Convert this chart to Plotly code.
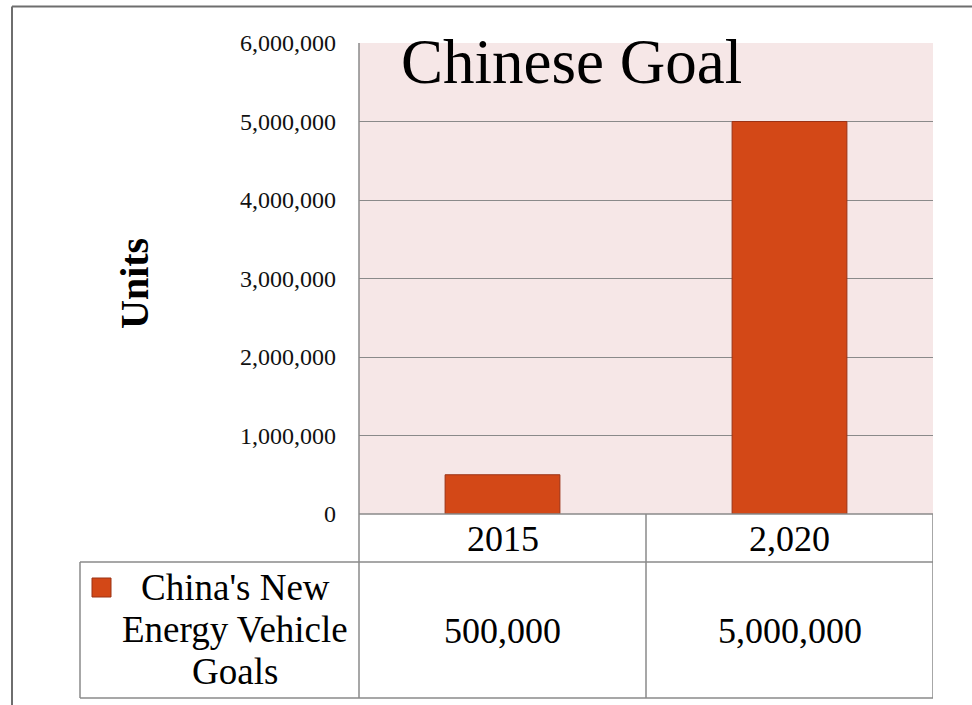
import plotly.graph_objects as go

# Chart data
categories = ["2015", "2,020"]
goal_units = [500000, 5000000]
series_lines = ["China's New", "Energy Vehicle", "Goals"]
chart_title = "Chinese Goal"
y_title = "Units"
y_ticks = [0, 1000000, 2000000, 3000000, 4000000, 5000000, 6000000]

W, H = 972, 705
SERIF = "Liberation Serif, Times New Roman, serif"
GRID = "#8a8a8a"
BAR = "#D34817"
BAR_EDGE = "#9B3215"
PINK = "#F6E7E7"

# plot area in pixels
PX0, PX1 = 359, 933
PY0, PY1 = 43, 514


def px(x):
    return x / W


def py(y):
    return 1 - y / H


fig = go.Figure(
    go.Bar(
        x=categories,
        y=goal_units,
        width=0.4,
        marker=dict(color=BAR, line=dict(color=BAR_EDGE, width=1)),
        showlegend=False,
        hoverinfo="skip",
    )
)

fig.update_layout(
    width=W,
    height=H,
    autosize=False,
    margin=dict(l=0, r=0, t=0, b=0, pad=0),
    paper_bgcolor="white",
    plot_bgcolor=PINK,
    font=dict(family=SERIF, color="#000000"),
    xaxis=dict(
        domain=[px(PX0), px(PX1)],
        type="category",
        range=[-0.5, 1.5],
        showticklabels=False,
        showgrid=False,
        zeroline=False,
        showline=False,
        ticks="",
        automargin=False,
        fixedrange=True,
    ),
    yaxis=dict(
        domain=[py(PY1), py(PY0)],
        range=[0, 6000000],
        tickvals=y_ticks,
        tickformat=",",
        showgrid=True,
        gridcolor=GRID,
        gridwidth=1.3,
        zeroline=False,
        showline=False,
        ticks="",
        ticklabelstandoff=22,
        tickfont=dict(family=SERIF, size=24, color="#111111"),
        automargin=False,
        fixedrange=True,
    ),
)

line = dict(color=GRID, width=1.5)
shapes = []


def hline(y, x0, x1, xref="paper"):
    shapes.append(dict(type="line", xref=xref, yref="paper", x0=x0, x1=x1,
                       y0=py(y), y1=py(y), line=line))


def vline(x, y0, y1, xref="paper"):
    shapes.append(dict(type="line", xref=xref, yref="paper", x0=x, x1=x,
                       y0=py(y0), y1=py(y1), line=line))


# plot area left edge continuing into the data table
vline(px(PX0), PY0, 698)
# data table grid
n = len(categories)
hline(PY1, -0.5, n - 0.5, xref="x")
hline(562, px(80), px(PX1))
hline(698, px(80), px(PX1))
vline(px(80), 562, 698)
for k in range(1, n + 1):
    vline(k - 0.5, PY1, 698, xref="x")

# outer chart border
shapes.append(dict(type="line", xref="paper", yref="paper", x0=px(12), x1=1.02,
                   y0=py(6.5), y1=py(6.5), line=dict(color="#6e6e6e", width=2)))
shapes.append(dict(type="line", xref="paper", yref="paper", x0=px(12), x1=px(12),
                   y0=py(6.5), y1=-0.02, line=dict(color="#6e6e6e", width=2)))

# legend key in the table
shapes.append(dict(type="rect", xref="paper", yref="paper",
                   x0=px(92), x1=px(111), y0=py(597), y1=py(578),
                   fillcolor=BAR, line=dict(color=BAR_EDGE, width=1)))

fig.update_layout(shapes=shapes)

ann = []
ann.append(dict(text=chart_title, xref="paper", yref="paper", x=px(571), y=py(62),
                xanchor="center", yanchor="middle", showarrow=False,
                font=dict(family=SERIF, size=63, color="#000000")))
ann.append(dict(text="<b>" + y_title + "</b>", xref="paper", yref="paper",
                x=px(134), y=py(284), textangle=-90, xanchor="center",
                yanchor="middle", showarrow=False,
                font=dict(family=SERIF, size=40, color="#000000")))
for i, (c, v) in enumerate(zip(categories, goal_units)):
    ann.append(dict(text=c, xref="x", yref="paper", x=i, y=py(538.5),
                    xanchor="center", yanchor="middle", showarrow=False,
                    font=dict(family=SERIF, size=36, color="#000000")))
    ann.append(dict(text=f"{v:,}", xref="x", yref="paper", x=i, y=py(630.5),
                    xanchor="center", yanchor="middle", showarrow=False,
                    font=dict(family=SERIF, size=36, color="#000000")))
for i, s in enumerate(series_lines):
    ann.append(dict(text=s, xref="paper", yref="paper", x=px(235), y=py(587 + 42 * i),
                    xanchor="center", yanchor="middle", showarrow=False,
                    font=dict(family=SERIF, size=37, color="#000000")))
fig.update_layout(annotations=ann)

fig.write_html("out.html")
